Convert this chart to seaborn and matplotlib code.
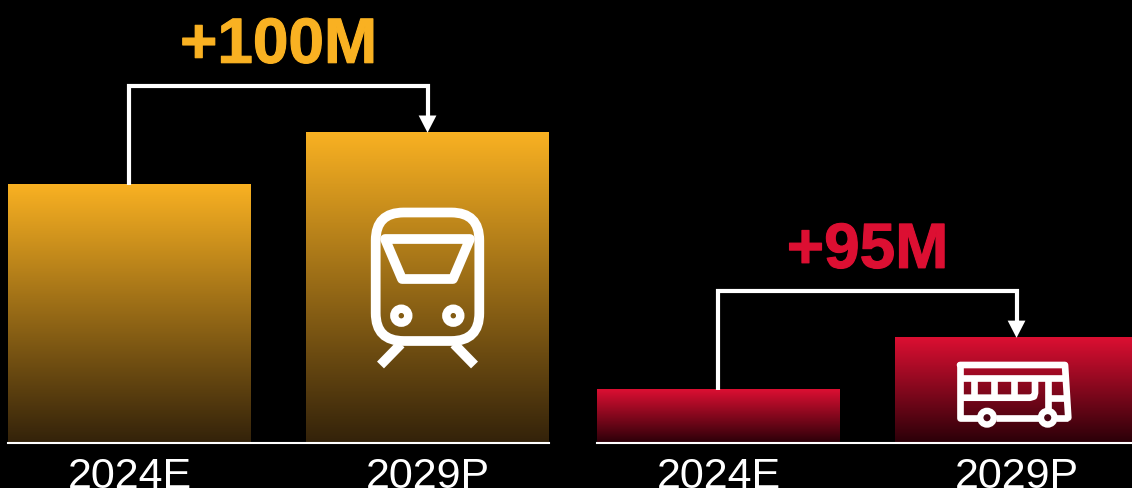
import numpy as np
import pandas as pd
import seaborn as sns
import matplotlib.pyplot as plt
import matplotlib.patheffects as pe
from matplotlib.colors import LinearSegmentedColormap
from matplotlib.patches import FancyBboxPatch, Circle, Polygon

periods = ['2024E', '2029P']
metro_values = [496, 596]
bus_values = [102, 202]
metro_delta = '+100M'
bus_delta = '+95M'

ORANGE = '#F9B122'
RED = '#DC0F32'
W, H = 1132, 489
Y_MAX = 850

sns.set_style('dark', {'axes.facecolor': 'black', 'figure.facecolor': 'black'})
plt.rcParams['font.family'] = ['Liberation Sans', 'DejaVu Sans']


def draw_group(rect, values, delta, top_color, bottom_color, delta_color):
    ax = fig.add_axes(rect)
    df = pd.DataFrame({'period': periods, 'value': values})
    sns.barplot(data=df, x='period', y='value', width=0.815, color=top_color, ax=ax)
    ax.set_xlim(-0.4075, 1.4075)
    ax.set_ylim(0, Y_MAX)

    # swap the flat bars for a vertical gradient
    cmap = LinearSegmentedColormap.from_list('fade', [bottom_color, top_color])
    ramp = np.linspace(0, 1, 256).reshape(-1, 1)
    for bar in ax.patches:
        bar.set_visible(False)
        x0, x1 = bar.get_x(), bar.get_x() + bar.get_width()
        ax.imshow(ramp, cmap=cmap, origin='lower', aspect='auto', zorder=2,
                  extent=(x0, x1, 0, bar.get_height()))
    ax.set_xlim(-0.4075, 1.4075)
    ax.set_ylim(0, Y_MAX)

    for s in ['top', 'left', 'right']:
        ax.spines[s].set_visible(False)
    ax.spines['bottom'].set_color('white')
    ax.spines['bottom'].set_linewidth(1.5)
    ax.spines['bottom'].set_zorder(5)
    ax.set_xlabel('')
    ax.set_ylabel('')
    ax.set_yticks([])
    ax.tick_params(axis='x', length=0, pad=9.5, labelsize=31, labelcolor='white')
    ax.grid(False)

    # bracket between both bars, about 47px over the taller one
    level = max(values) + 47 * Y_MAX / 442
    ax.plot([0, 0, 1, 1], [values[0], level, level, values[1] + 25], color='white',
            lw=3.0, solid_joinstyle='miter', solid_capstyle='butt', zorder=3)
    ax.annotate('', xy=(1, values[1]), xytext=(1, values[1] + 34),
                arrowprops=dict(arrowstyle='-|>,head_width=0.32,head_length=0.62', color='white',
                                lw=0, mutation_scale=20, shrinkA=0, shrinkB=0), zorder=4)
    label = ax.annotate(delta, xy=(0.5, level), xytext=(0, 16.5), textcoords='offset points',
                        ha='center', va='baseline', fontsize=46, fontweight='bold', color=delta_color)
    label.set_path_effects([pe.withStroke(linewidth=0.8, foreground=delta_color)])
    return ax


def train_icon(ov):
    style = dict(color='white', lw=7, solid_capstyle='butt')
    ov.add_patch(FancyBboxPatch((375.7 + 28, 213.5 + 28), 103.6 - 56, 128.5 - 56,
                                boxstyle='round,pad=28,rounding_size=28', fc='none', ec='white', lw=7))
    ov.add_patch(Polygon([(385, 240), (470, 240), (453, 280), (402, 280)], closed=True, fc='none',
                         ec='white', lw=7, joinstyle='round'))
    for cx in [401.3, 453.3]:
        ov.add_patch(Circle((cx, 316.7), 7, fc='none', ec='white', lw=6))
    ov.plot([401, 380.5], [345, 366], **style)
    ov.plot([454, 474.5], [345, 366], **style)


def bus_icon(ov):
    style = dict(color='white', lw=4.8, solid_capstyle='butt', solid_joinstyle='round')
    ov.plot([960, 1065, 1068.3], [366, 366, 418.7], color='white', lw=4.8, solid_joinstyle='round')
    ov.plot([960, 960, 979], [366, 418.7, 418.7], color='white', lw=4.8, solid_joinstyle='round')
    ov.plot([996, 1039], [418.7, 418.7], **style)
    ov.plot([1056, 1068.3], [418.7, 418.7], **style)
    ov.plot([960, 1066], [378.7, 378.7], **style)
    ov.plot([960, 1030, 1034, 1035, 1035], [398.7, 398.7, 397.5, 394, 378.7], **style)
    ov.plot([1047.7, 1068], [398.7, 398.7], **style)
    for x_div in [973.7, 994, 1014]:
        ov.plot([x_div, x_div], [378.7, 398.7], **style)
    ov.plot([1047.7, 1047.7], [378.7, 410], **style)
    for cx in [987, 1047.7]:
        ov.add_patch(Circle((cx, 418.7), 6.8, fc='#4a0615', ec='white', lw=4.6))


fig = plt.figure(figsize=(W / 100, H / 100), dpi=100, facecolor='black')
bottom = 45 / H
height = 442.5 / H
draw_group([8 / W, bottom, 541 / W, height], metro_values, metro_delta, ORANGE, '#33220A', ORANGE)
draw_group([597 / W, bottom, 541 / W, height], bus_values, bus_delta, RED, '#2A0008', RED)

# overlay in pixel coordinates, just for the two pictograms
ov = fig.add_axes([0, 0, 1, 1], facecolor='none')
ov.set_xlim(0, W)
ov.set_ylim(H, 0)
ov.axis('off')
train_icon(ov)
bus_icon(ov)

fig.savefig('out.png', dpi=100, facecolor='black')
